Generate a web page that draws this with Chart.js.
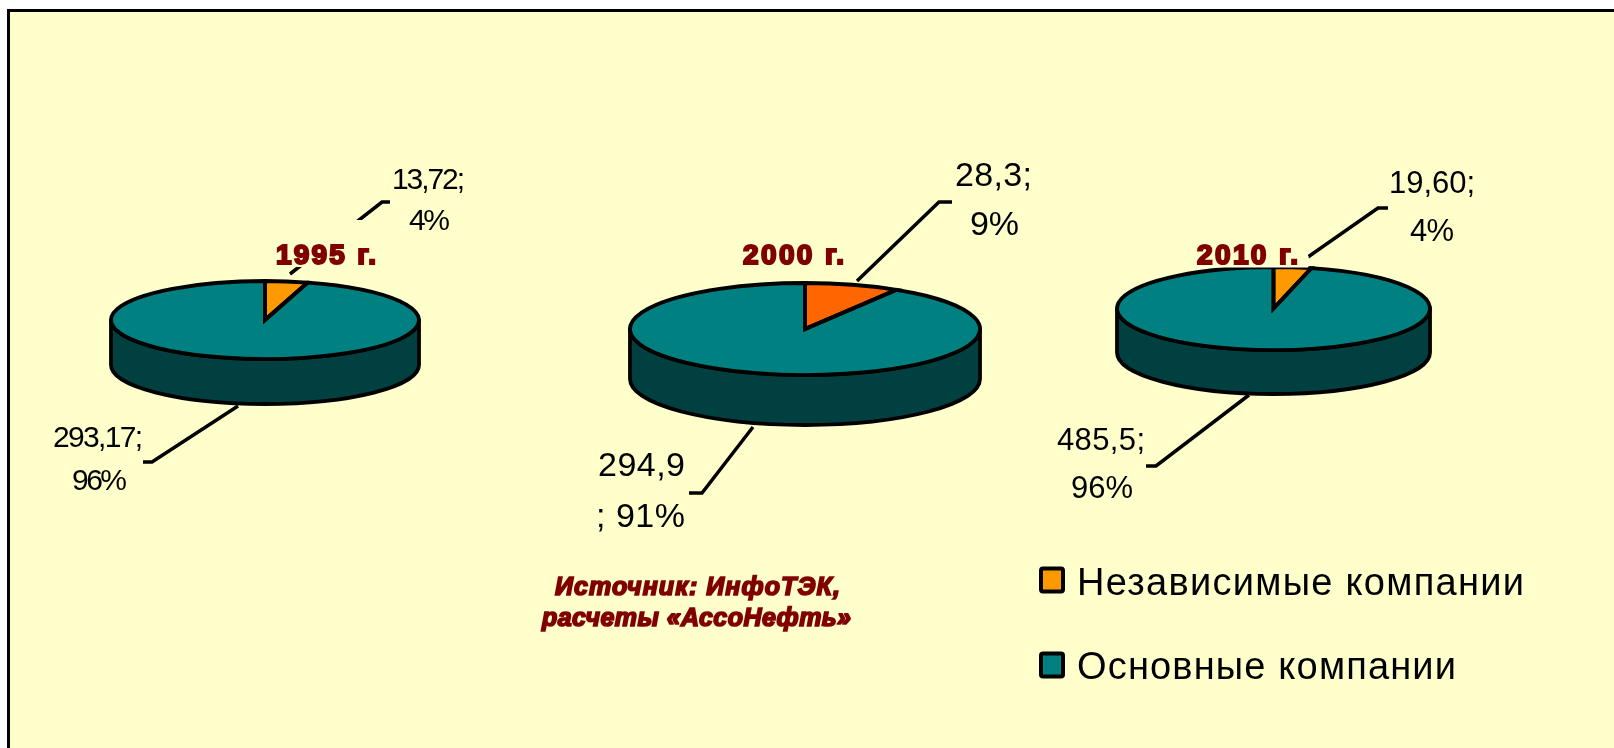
<!DOCTYPE html>
<html lang="ru">
<head>
<meta charset="utf-8">
<title>Независимые и основные компании</title>
<script src="https://cdn.jsdelivr.net/npm/chart.js@4"></script>
<style>
html,body{margin:0;padding:0;background:#fff;width:1614px;height:748px;overflow:hidden}
#panel{position:absolute;left:7px;top:9px;width:1607px;height:739px;box-sizing:border-box;background:#FFFFCC;border-left:3px solid #000;border-top:3px solid #000}
canvas{position:absolute}
#overlay{position:absolute;left:0;top:0}
text{font-family:"Liberation Sans",Arial,sans-serif;fill:#000}
.title{font-weight:bold;fill:#800000;stroke:#800000;stroke-width:2.1px}
.source{font-weight:bold;font-style:italic;fill:#800000;stroke:#800000;stroke-width:1.7px}
.lead{fill:none;stroke:#000;stroke-width:3.5}
</style>
</head>
<body>
<div id="panel"></div>
<svg id="overlay" width="1614" height="748" xmlns="http://www.w3.org/2000/svg"></svg>
<script>
// ---------- data ----------
const years = ['1995 г.', '2000 г.', '2010 г.'];
const seriesNames = ['Независимые компании', 'Основные компании'];
const independentValues = [13.72, 28.3, 19.60];
const majorValues = [293.17, 294.9, 485.5];
const independentLabels = [['13,72;', '4%'], ['28,3;', '9%'], ['19,60;', '4%']];
const majorLabels = [['293,17;', '96%'], ['294,9', '; 91%'], ['485,5;', '96%']];
const sourceLines = ['Источник: ИнфоТЭК,', 'расчеты «АссоНефть»'];

// ---------- styles ----------
const teal = '#008080', tealDark = '#004040', edge = '#000000';
const independentColors = ['#FF9900', '#FF6600', '#FF9900'];
const legendColors = ['#FF9900', '#008080'];
const EDGE_W = 3.8;

// ---------- layout ----------
const pieBoxes = [
  {cx: 265, cy: 320, rx: 154, ry: 39, depth: 45},
  {cx: 805, cy: 329, rx: 175, ry: 46, depth: 50},
  {cx: 1273, cy: 308.5, rx: 156.5, ry: 41.5, depth: 44}
];
const PAD = 6;

const pie3d = {
  id: 'pie3d',
  beforeDatasetsDraw(chart, args, o) {
    const a = chart.getDatasetMeta(0).data[0], c = chart.ctx;
    const k = o.ry / a.outerRadius, R = a.outerRadius;
    c.save();
    c.beginPath();
    c.ellipse(a.x, a.y, R, R * k, 0, 0, Math.PI);
    c.lineTo(a.x - R, a.y + o.depth);
    c.ellipse(a.x, a.y + o.depth, R, R * k, 0, Math.PI, 0, true);
    c.closePath();
    c.fillStyle = tealDark;
    c.fill();
    c.lineWidth = EDGE_W; c.strokeStyle = edge; c.lineJoin = 'round';
    c.stroke();
    c.restore();
  },
  beforeDatasetDraw(chart, args, o) {
    const a = chart.getDatasetMeta(0).data[0], c = chart.ctx;
    c.save();
    c.translate(a.x, a.y);
    c.scale(1, o.ry / a.outerRadius);
    c.translate(-a.x, -a.y);
  },
  afterDatasetDraw(chart, args, o) {
    const c = chart.ctx;
    c.restore();
    c.save();
    c.lineWidth = EDGE_W; c.strokeStyle = edge; c.lineJoin = 'miter';
    chart.getDatasetMeta(0).data.forEach(a => {
      const R = a.outerRadius, k = o.ry / R;
      c.beginPath();
      c.moveTo(a.x, a.y);
      c.ellipse(a.x, a.y, R, R * k, 0, a.startAngle, a.endAngle);
      c.closePath();
      c.stroke();
    });
    c.restore();
  }
};

years.forEach((year, i) => {
  const b = pieBoxes[i], size = 2 * (b.rx + PAD);
  const cv = document.createElement('canvas');
  cv.width = size; cv.height = size;
  cv.style.left = (b.cx - b.rx - PAD) + 'px';
  cv.style.top = (b.cy - b.rx - PAD) + 'px';
  cv.style.width = size + 'px'; cv.style.height = size + 'px';
  document.body.insertBefore(cv, document.getElementById('overlay'));
  new Chart(cv, {
    type: 'pie',
    data: {
      labels: seriesNames,
      datasets: [{
        data: [independentValues[i], majorValues[i]],
        backgroundColor: [independentColors[i], teal],
        borderWidth: 0
      }]
    },
    options: {
      responsive: false,
      animation: false,
      layout: {padding: PAD},
      plugins: {legend: {display: false}, tooltip: {enabled: false}, pie3d: {ry: b.ry, depth: b.depth}}
    },
    plugins: [pie3d]
  });
});

// ---------- annotation overlay ----------
const svg = document.getElementById('overlay');
const NS = 'http://www.w3.org/2000/svg';
function el(name, attrs, txt) {
  const e = document.createElementNS(NS, name);
  for (const k in attrs) e.setAttribute(k, attrs[k]);
  if (txt !== undefined) e.textContent = txt;
  svg.appendChild(e);
  return e;
}
function lead(d) { el('path', {d, class: 'lead'}); }
function txt(s, x0, x1, base, size, cls) {
  const a = {x: x0, y: base, 'font-size': size, textLength: x1 - x0, lengthAdjust: 'spacing'};
  if (cls) a.class = cls;
  return el('text', a, s);
}

// leader lines
lead('M290 274L382 202H390');
lead('M238 406L152 462H143');
lead('M857 281L939 202H952');
lead('M753 427L702 493H689');
lead('M1308 257L1378 208H1388');
lead('M1249 395L1156 466H1146');

// title backing boxes
el('rect', {x: 272, y: 220, width: 108, height: 47, fill: '#FFFFCC'});
el('rect', {x: 1195, y: 232, width: 113, height: 35, fill: '#FFFFCC'});
el('path', {d: 'M1197 267H1308V256', fill: 'none', stroke: '#fff', 'stroke-width': 1});

// pie titles
txt(years[0], 276, 376, 264, 28, 'title');
txt(years[1], 743, 844, 264, 28, 'title');
txt(years[2], 1197, 1298, 264, 28, 'title');

// value labels
txt(independentLabels[0][0], 392, 465, 189, 30);
txt(independentLabels[0][1], 409, 450, 230, 30);
txt(majorLabels[0][0], 53, 143, 447, 30);
txt(majorLabels[0][1], 72, 127, 490, 30);

txt(independentLabels[1][0], 955, 1032, 186, 34);
txt(independentLabels[1][1], 970, 1019, 235, 34);
txt(majorLabels[1][0], 598, 685, 476, 34);
txt(majorLabels[1][1], 596, 685, 527, 34);

txt(independentLabels[2][0], 1389, 1475, 193, 31);
txt(independentLabels[2][1], 1410, 1454, 241, 31);
txt(majorLabels[2][0], 1057, 1145, 450, 31);
txt(majorLabels[2][1], 1071, 1133, 498, 31);

// source
txt(sourceLines[0], 555, 840, 595, 25, 'source');
txt(sourceLines[1], 542, 851, 626, 25, 'source');

// legend
[[567, 595], [652, 679]].forEach((pos, i) => {
  el('rect', {x: 1041, y: pos[0] + 1.5, width: 22, height: 23, rx: 2, fill: legendColors[i], stroke: '#000', 'stroke-width': 4});
});
txt(seriesNames[0], 1077, 1524, 595, 38);
txt(seriesNames[1], 1077, 1456, 679, 38);
</script>
</body>
</html>
